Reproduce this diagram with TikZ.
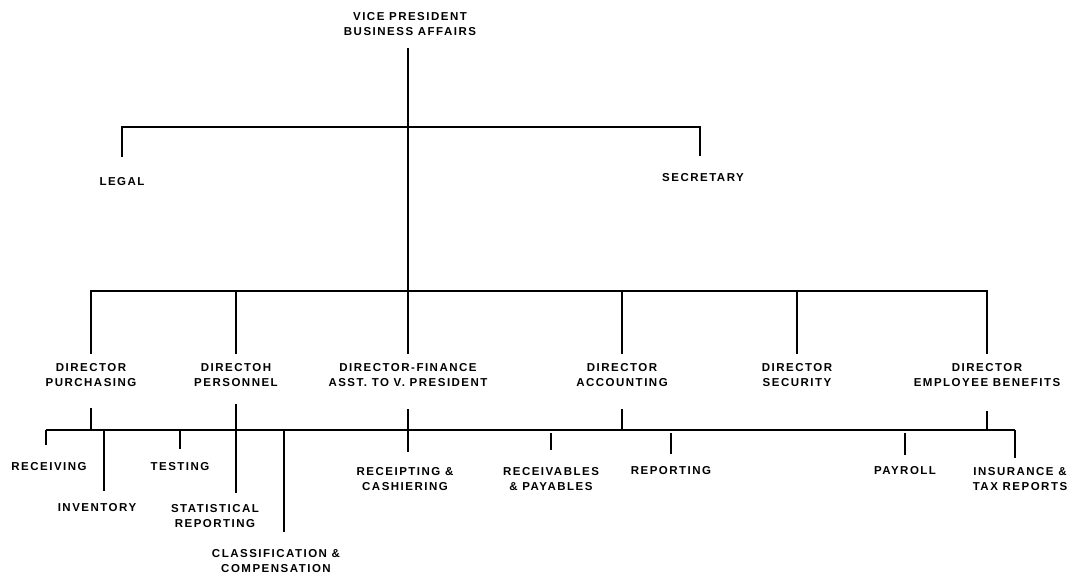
\documentclass[tikz,border=0pt]{standalone}
\usepackage{fontspec}
\newfontfamily\orgfamily{Liberation Sans}[LetterSpace=13]
\newcommand{\orgfont}{\orgfamily\bfseries\fontsize{11.5}{15.5}\selectfont}
\tikzset{
    orgline/.style={line width=1.8pt}
}
\newcommand{\orgunit}[3]{
    \node(#1)[
        font=\orgfont,
        align=center,
        inner sep=0pt,
        #2
    ]{#3};
}

\begin{document}
\begin{tikzpicture}[x=1pt, y=-1pt]
	\useasboundingbox (0,0) rectangle (1085,579);

	\orgunit{vp}{at={(410,24)}}{VICE PRESIDENT\\BUSINESS AFFAIRS}
	\orgunit{legal}{at={(122,182)}}{LEGAL}
	\orgunit{secretary}{at={(703,178)}}{SECRETARY}

	\coordinate (staffR) at (700,127);
	\coordinate (dirbus) at (408,291);

	\draw[orgline, shorten <=12pt] (vp.south -| dirbus) -- (dirbus);
	\draw[orgline, shorten <=21pt, shorten >=18pt] (legal.north) |- (staffR) -- (secretary.north -| staffR);

	% directors
	\orgunit{dpurch}{at={(91,375)}}{DIRECTOR\\PURCHASING}
	\orgunit{dpers}{at={(236,375)}}{DIRECTOH\\PERSONNEL}
	\orgunit{dfin}{at={(408,375)}}{DIRECTOR-FINANCE\\ASST. TO V. PRESIDENT}
	\orgunit{dacct}{at={(622,375)}}{DIRECTOR\\ACCOUNTING}
	\orgunit{dsec}{at={(797,375)}}{DIRECTOR\\SECURITY}
	\orgunit{dben}{at={(987,375)}}{DIRECTOR\\EMPLOYEE BENEFITS}

	\foreach \d in {dpurch,dpers,dfin,dacct,dsec,dben}
		\draw[orgline, shorten >=9pt] (dirbus) -| (\d.north);

	% sections
	\orgunit{receiving}{at={(49,467)}}{RECEIVING}
	\orgunit{inventory}{at={(97,508)}}{INVENTORY}
	\orgunit{testing}{at={(180,467)}}{TESTING}
	\orgunit{statrep}{at={(215,516)}}{STATISTICAL\\REPORTING}
	\orgunit{classcomp}{at={(276,561)}}{CLASSIFICATION \&\\COMPENSATION}
	\orgunit{receipting}{at={(405,479)}}{RECEIPTING \&\\CASHIERING}
	\orgunit{receivables}{at={(551,479)}}{RECEIVABLES\\\& PAYABLES}
	\orgunit{reporting}{at={(671,471)}}{REPORTING}
	\orgunit{payroll}{at={(905,471)}}{PAYROLL}
	\orgunit{insurance}{at={(1020,479)}}{INSURANCE \&\\TAX REPORTS}

	\coordinate (subL) at (46,430);
	\coordinate (subR) at (1015,430);
	\coordinate (invtap) at (104,430);
	\coordinate (classtap) at (284,430);

	\draw[orgline] (subL) -- (subR);

	\draw[orgline, shorten <=21pt] (dpurch.south) -- (dpurch.south |- subL);
	\draw[orgline, shorten <=17pt, shorten >=11pt] (dpers.south) -- (dpers.south |- statrep.north);
	\draw[orgline, shorten <=22pt, shorten >=15pt] (dfin.south) -- (dfin.south |- receipting.north);
	\draw[orgline, shorten <=22pt] (dacct.south) -- (dacct.south |- subL);
	\draw[orgline, shorten <=24pt] (dben.south) -- (dben.south |- subL);

	\draw[orgline, shorten >=18pt] (subL) -- (subL |- receiving.north);
	\draw[orgline, shorten >=13pt] (invtap) -- (invtap |- inventory.north);
	\draw[orgline, shorten >=14pt] (testing.north |- subL) -- (testing.north);
	\draw[orgline, shorten >=17pt] (classtap) -- (classtap |- classcomp.north);
	\draw[orgline, shorten <=3pt, shorten >=17pt] (receivables.north |- subL) -- (receivables.north);
	\draw[orgline, shorten <=3pt, shorten >=13pt] (reporting.north |- subL) -- (reporting.north);
	\draw[orgline, shorten <=3pt, shorten >=12pt] (payroll.north |- subL) -- (payroll.north);
	\draw[orgline, shorten >=9pt] (subR) -- (subR |- insurance.north);
\end{tikzpicture}
\end{document}
